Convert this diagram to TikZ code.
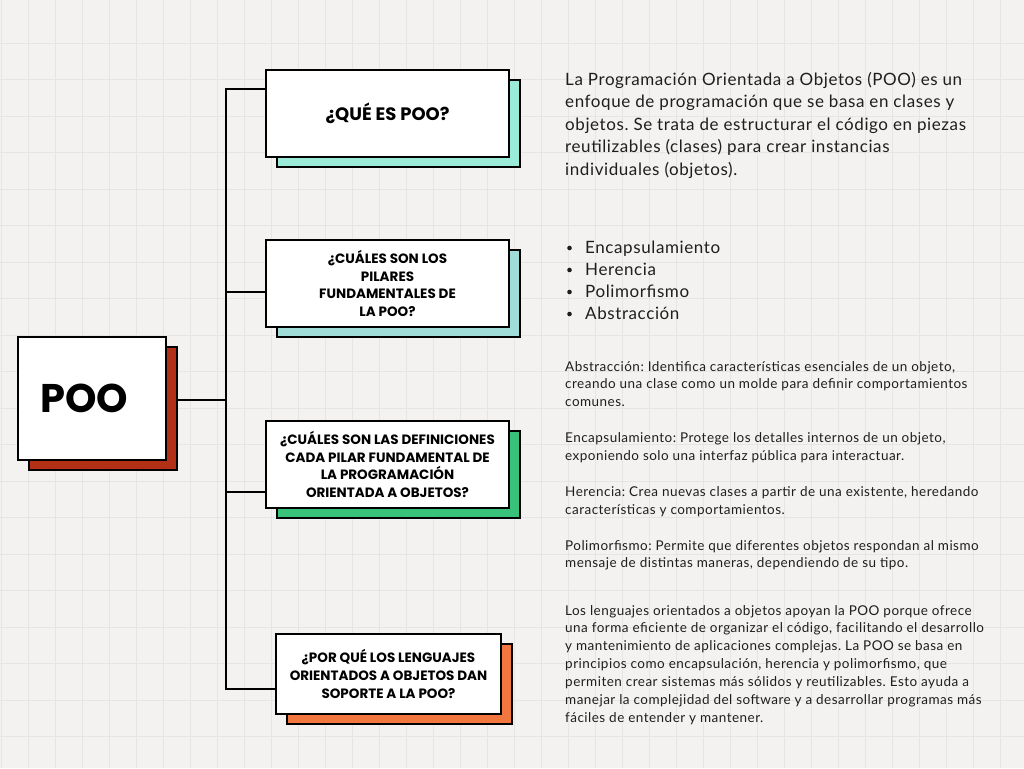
\documentclass[tikz,border=0pt]{standalone}
\usepackage{fontspec}
\setmainfont{Lato}
\newfontfamily\headfont{Poppins}[UprightFont=* Bold]
\newfontfamily\bodyfont{Lato}[LetterSpace=3.5]
\usetikzlibrary{calc,shadows}
\frenchspacing
\definecolor{bgc}{HTML}{F3F2F0}
\definecolor{gridc}{HTML}{E5E5E3}
\definecolor{mintc}{HTML}{9BEBD9}
\definecolor{tealc}{HTML}{A0DCD8}
\definecolor{greenc}{HTML}{38C27A}
\definecolor{orangec}{HTML}{F2773F}
\definecolor{redc}{HTML}{B23015}
\definecolor{textc}{HTML}{1E1E1E}
\tikzset{
  qbox/.style={draw=black, fill=white, line width=2pt, inner sep=0pt, align=center,
    font=\headfont\fontsize{13.5}{17.8}\selectfont,
    drop shadow={shadow xshift=11pt, shadow yshift=-10pt, fill=#1, draw=black, line width=2pt, opacity=1}},
  conn/.style={draw=black, line width=2pt},
  body/.style={anchor=base west, inner sep=0pt, text=textc},
  bigtext/.style={body, font=\frenchspacing\bodyfont\fontsize{17}{20}\selectfont},
  smalltext/.style={body, font=\frenchspacing\bodyfont\fontsize{13.5}{16}\selectfont},
}
\begin{document}
\begin{tikzpicture}[x=1pt,y=-1pt]
\fill[bgc] (0,0) rectangle (1024,768);
\useasboundingbox (0,0) rectangle (1024,768);
\foreach \gx in {1,28,...,1024} \draw[gridc, line width=0.6pt] (\gx,0) -- (\gx,768);
\foreach \gy in {43,79.5,...,768} \draw[gridc, line width=0.6pt] (0,\gy) -- (1024,\gy);

% main node
\node[qbox=redc, minimum width=148pt, minimum height=123pt, font=\headfont\fontsize{40}{44}\selectfont] (poo) at (92,398.5) {POO\hspace*{16pt}};

% question boxes
\node[qbox=mintc, minimum width=243pt, minimum height=87pt, font=\headfont\fontsize{18}{22}\selectfont] (q1) at (387.5,113.5) {¿QUÉ ES POO?};
\node[qbox=tealc, minimum width=243pt, minimum height=87pt] (q2) at (387.5,283.5) {¿CUÁLES SON LOS\\PILARES\\FUNDAMENTALES DE\\LA POO?};
\node[qbox=greenc, minimum width=243pt, minimum height=87pt] (q3) at (387.5,464.5) {¿CUÁLES SON LAS DEFINICIONES\\CADA PILAR FUNDAMENTAL DE\\LA PROGRAMACIÓN\\ORIENTADA A OBJETOS?};
\node[qbox=orangec, minimum width=225pt, minimum height=80pt] (q4) at (388.5,674) {¿POR QUÉ LOS LENGUAJES\\ORIENTADOS A OBJETOS DAN\\SOPORTE A LA POO?};

% connectors
\coordinate (trunk) at (226,0);
\coordinate (c0) at ($(poo.east)+(11,1.5)$);
\coordinate (c1) at ($(q1.west)+(0,-24.5)$);
\coordinate (c2) at ($(q2.west)+(0,8.5)$);
\coordinate (c3) at ($(q3.west)+(0,27.5)$);
\coordinate (c4) at ($(q4.west)+(0,15)$);
\draw[conn] (c1) -- (c1 -| trunk) -- (c4 -| trunk) -- (c4);
\draw[conn] (c0) -- (c0 -| trunk);
\draw[conn] (c2) -- (c2 -| trunk);
\draw[conn] (c3) -- (c3 -| trunk);

% texts
\foreach \t [count=\i from 0] in {
  {La Programación Orientada a Objetos (POO) es un},
  {enfoque de programación que se basa en clases y},
  {objetos. Se trata de estructurar el código en piezas},
  {reutilizables (clases) para crear instancias},
  {individuales (objetos).}}
  \node[bigtext] (p1l\i) at (565,85+22.5*\i) {\t};

\foreach \t [count=\i from 0] in {Encapsulamiento, Herencia, Polimorfismo, Abstracción}{
  \node[bigtext] (b\i) at (585,253+22*\i) {\t};
  \fill[textc] (569.5,248+22*\i) circle (2.3pt);
}

\foreach \t [count=\i from 0] in {
  {Abstracción: Identifica características esenciales de un objeto,},
  {creando una clase como un molde para definir comportamientos},
  {comunes.},
  {},
  {Encapsulamiento: Protege los detalles internos de un objeto,},
  {exponiendo solo una interfaz pública para interactuar.},
  {},
  {Herencia: Crea nuevas clases a partir de una existente, heredando},
  {características y comportamientos.},
  {},
  {Polimorfismo: Permite que diferentes objetos respondan al mismo},
  {mensaje de distintas maneras, dependiendo de su tipo.}}
  \node[smalltext] (d\i) at (565,371+17.9*\i) {\t};

\foreach \t [count=\i from 0] in {
  {Los lenguajes orientados a objetos apoyan la POO porque ofrece},
  {una forma eficiente de organizar el código, facilitando el desarrollo},
  {y mantenimiento de aplicaciones complejas. La POO se basa en},
  {principios como encapsulación, herencia y polimorfismo, que},
  {permiten crear sistemas más sólidos y reutilizables. Esto ayuda a},
  {manejar la complejidad del software y a desarrollar programas más},
  {fáciles de entender y mantener.}}
  \node[smalltext] (e\i) at (565,615+17.85*\i) {\t};
\end{tikzpicture}
\end{document}
